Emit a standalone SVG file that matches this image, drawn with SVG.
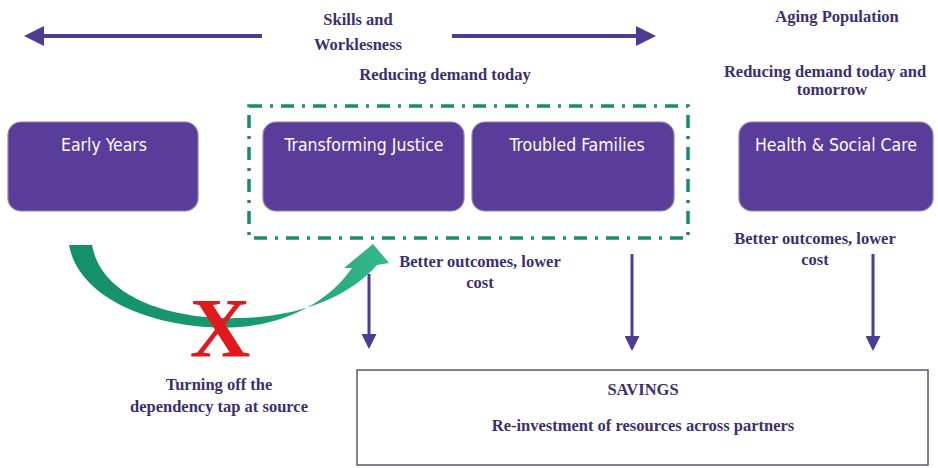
<svg xmlns="http://www.w3.org/2000/svg" width="938" height="468" viewBox="0 0 938 468">
  <style>
    .box { fill: #5a3c9b; stroke: #8c84a0; stroke-width: 1.2; }
    .boxtxt { font-family: "DejaVu Sans Condensed", "DejaVu Sans", sans-serif; font-size: 17.5px; fill: #ffffff; text-anchor: middle; }
    .lbl { font-family: "Liberation Serif", serif; font-weight: bold; font-size: 16.5px; fill: #3d2f6e; text-anchor: middle; }
    .flow { stroke: #4d3c91; stroke-width: 3; fill: none; marker-end: url(#head); }
    .wide { stroke-width: 4; }
  </style>
  <defs>
    <marker id="head" markerWidth="5" markerHeight="5" refX="4" refY="2.5" orient="auto" markerUnits="strokeWidth">
      <path d="M0,0 L5,2.5 L0,5 Z" fill="#4d3c91"/>
    </marker>
    <linearGradient id="green" x1="0" y1="0" x2="1" y2="0">
      <stop offset="0" stop-color="#149068"/>
      <stop offset="0.6" stop-color="#1a9a70"/>
      <stop offset="1" stop-color="#34b98c"/>
    </linearGradient>
  </defs>
  <rect width="938" height="468" fill="#ffffff"/>

  <!-- header labels -->
  <g id="skills-label">
    <text class="lbl" x="358" y="25">Skills and</text>
    <text class="lbl" x="358" y="50">Worklesness</text>
  </g>
  <text class="lbl" x="445" y="80">Reducing demand today</text>
  <text class="lbl" x="837" y="22">Aging Population</text>
  <text class="lbl" x="825" y="77">Reducing demand today and</text>
  <text class="lbl" x="832" y="95">tomorrow</text>

  <!-- dashed grouping frame -->
  <rect x="249" y="106" width="439" height="132" fill="none" stroke="#1a8c6a" stroke-width="3.5" stroke-dasharray="13 8 3 8"/>

  <!-- nodes -->
  <g id="early-years">
    <rect class="box" x="8" y="122" width="190" height="89" rx="13"/>
    <text class="boxtxt" x="104" y="151">Early Years</text>
  </g>
  <g id="transforming-justice">
    <rect class="box" x="263" y="122" width="201" height="89" rx="13"/>
    <text class="boxtxt" x="364" y="151">Transforming Justice</text>
  </g>
  <g id="troubled-families">
    <rect class="box" x="472" y="122" width="202" height="89" rx="13"/>
    <text class="boxtxt" x="577" y="151">Troubled Families</text>
  </g>
  <g id="health-social-care">
    <rect class="box" x="739" y="122" width="194" height="89" rx="13"/>
    <text class="boxtxt" x="836" y="151">Health &amp; Social Care</text>
  </g>
  <g id="savings">
    <rect x="357" y="370" width="571" height="95" fill="#ffffff" stroke="#5a5670" stroke-width="1.5"/>
    <text class="lbl" x="643" y="395">SAVINGS</text>
    <text class="lbl" x="643" y="431">Re-investment of resources across partners</text>
  </g>

  <!-- connectors -->
  <g id="connectors">
    <line class="flow wide" x1="262" y1="36" x2="28" y2="36"/>
    <line class="flow wide" x1="452" y1="36" x2="652" y2="36"/>
    <line class="flow" x1="369" y1="274" x2="369" y2="346"/>
    <line class="flow" x1="632" y1="254" x2="632" y2="348"/>
    <line class="flow" x1="873" y1="254" x2="873" y2="348"/>
    <path id="dependency-arc" fill="url(#green)" d="M 69 245 C 80 305, 170 332, 240 327 C 290 323, 330 300, 352 268 L 344 268 L 373 244 L 389 263 L 377 265 C 350 296, 300 317, 240 318 C 175 320, 102 300, 92 245 Z"/>
  </g>

  <!-- annotations -->
  <text x="220" y="357" font-family="Liberation Serif, serif" font-weight="bold" font-size="84" fill="#e2191c" text-anchor="middle">X</text>
  <text class="lbl" x="219" y="390">Turning off the</text>
  <text class="lbl" x="219" y="412">dependency tap at source</text>
  <text class="lbl" x="480" y="267">Better outcomes, lower</text>
  <text class="lbl" x="480" y="288">cost</text>
  <text class="lbl" x="815" y="244">Better outcomes, lower</text>
  <text class="lbl" x="815" y="265">cost</text>
</svg>
